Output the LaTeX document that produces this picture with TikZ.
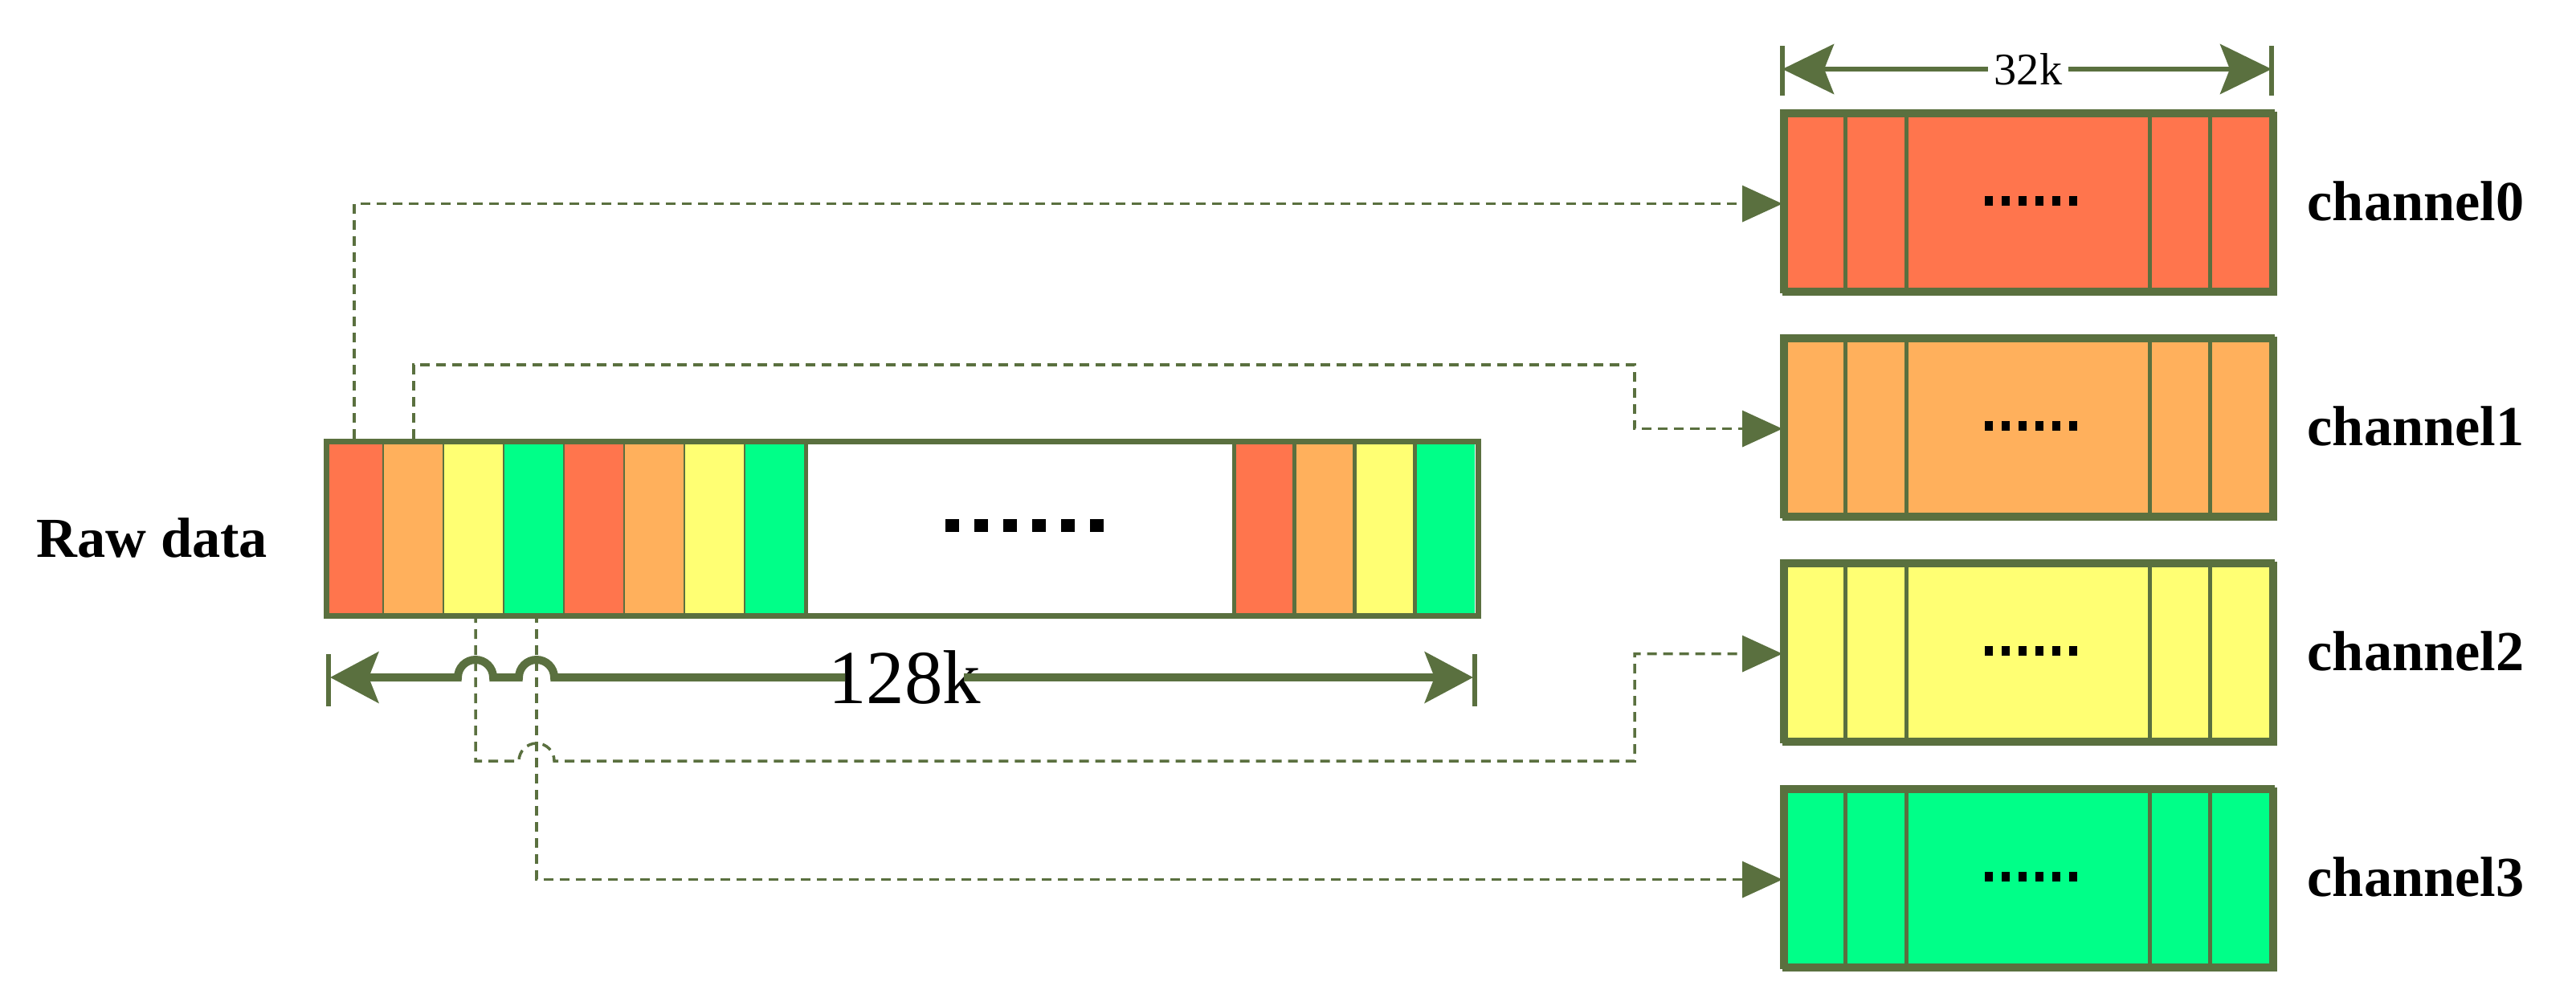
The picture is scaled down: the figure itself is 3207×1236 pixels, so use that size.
\documentclass[tikz,border=0pt]{standalone}
\usepackage{fontspec}
\setmainfont{Liberation Serif}
\usetikzlibrary{arrows.meta}
\definecolor{olive}{HTML}{5A703F}
\definecolor{cR}{HTML}{FF754D}
\definecolor{cO}{HTML}{FFB05C}
\definecolor{cY}{HTML}{FFFF73}
\definecolor{cG}{HTML}{00FF88}
\tikzset{
  cellbox/.style={draw=olive,line width=0.05cm},
  outer/.style={draw=olive,line width=0.07cm},
  chbox/.style={outer,minimum width=6.09cm,minimum height=2.22cm,inner sep=0,anchor=north west},
  conn/.style={draw=olive,line width=0.035cm,dash pattern=on 0.12cm off 0.08cm,-{Triangle[length=0.5cm,width=0.45cm]}},
  dim/.style={draw=olive,line width=0.1cm},
  lbl/.style={font=\fontsize{20}{24}\selectfont\bfseries,anchor=west,inner sep=0}
}
\begin{document}
\begin{tikzpicture}[x=0.01cm,y=-0.01cm]
\useasboundingbox (0,0) rectangle (3207,1236);
% raw bar cells
\foreach \i/\c in {0/cR,1/cO,2/cY,3/cG,4/cR,5/cO,6/cY,7/cG}{
  \fill[\c] (403+75*\i,546) rectangle (478+75*\i,763);
  \draw[cellbox] (478+75*\i,546) -- (478+75*\i,763);}
\foreach \i/\c in {0/cR,1/cO,2/cY,3/cG}{
  \fill[\c] (1536+75*\i,546) rectangle (1611+75*\i,763);
  \draw[cellbox] (1536+75*\i,546) -- (1536+75*\i,763);}
\node[outer,minimum width=14.33cm,minimum height=2.17cm,inner sep=0,anchor=north west] (raw) at (403,546) {};
\foreach \i in {0,...,5} \fill (1177+36*\i,646) rectangle (1194+36*\i,662);
\node[lbl] (rawlbl) at (45,669) {Raw data};
% channel boxes
\foreach \k/\c/\y in {0/cR/139,1/cO/419,2/cY/699,3/cG/980}{
  \node[chbox,fill=\c] (ch\k) at (2219,\y) {};
  \foreach \xx in {2297,2373,2676,2751} \draw[cellbox] (\xx,\y) -- (\xx,\y+222);
  \draw[outer] (2219,\y) rectangle (2828,\y+222);
  \foreach \i in {0,...,5} \fill (2471+21*\i,\y+105) rectangle (2481+21*\i,\y+117);
  \node[lbl] (chl\k) at (2872,\y+111) {channel\k};
}
% 32k dimension
\coordinate (a1) at (2219,86); \coordinate (a2) at (2828,86);
\draw[dim,line width=0.06cm] (2219,57) -- (2219,119) (2828,57) -- (2828,119);
\node[font=\fontsize{16}{18}\selectfont,inner sep=2pt] (k32) at (2525,86) {32k};
\draw[dim,line width=0.06cm,{Stealth[length=0.64cm,width=0.62cm,inset=0.12cm]}-] (a1) -- (k32.west);
\draw[dim,line width=0.06cm,-{Stealth[length=0.64cm,width=0.62cm,inset=0.12cm]}] (k32.east) -- (a2);
% 128k dimension
\coordinate (b1) at (411,843); \coordinate (b2) at (1834,843);
\draw[dim,line width=0.06cm] (409,814) -- (409,879) (1836,814) -- (1836,879);
\node[font=\fontsize{27}{30}\selectfont,inner sep=0] (k128) at (1126,843) {128k};
\draw[dim,{Stealth[length=0.6cm,width=0.63cm,inset=0.12cm]}-] (b1) -- (570,843) arc (180:360:22) -- (646,843) arc (180:360:22) -- (1052,843);
\draw[dim,-{Stealth[length=0.6cm,width=0.63cm,inset=0.12cm]}] (1200,843) -- (b2);
% connectors
\coordinate (s0) at (441,546); \coordinate (s1) at (515,546);
\coordinate (s2) at (592,763); \coordinate (s3) at (668,763);
\draw[conn] (s0) |- (ch0.west);
\draw[conn] (s1) -- (515,454) -- (2035,454) |- (ch1.west);
\draw[conn] (s2) -- (592,947) -- (646,947) arc (180:360:22) -- (2035,947) |- (ch2.west);
\draw[conn] (s3) |- (ch3.west);
\end{tikzpicture}
\end{document}
